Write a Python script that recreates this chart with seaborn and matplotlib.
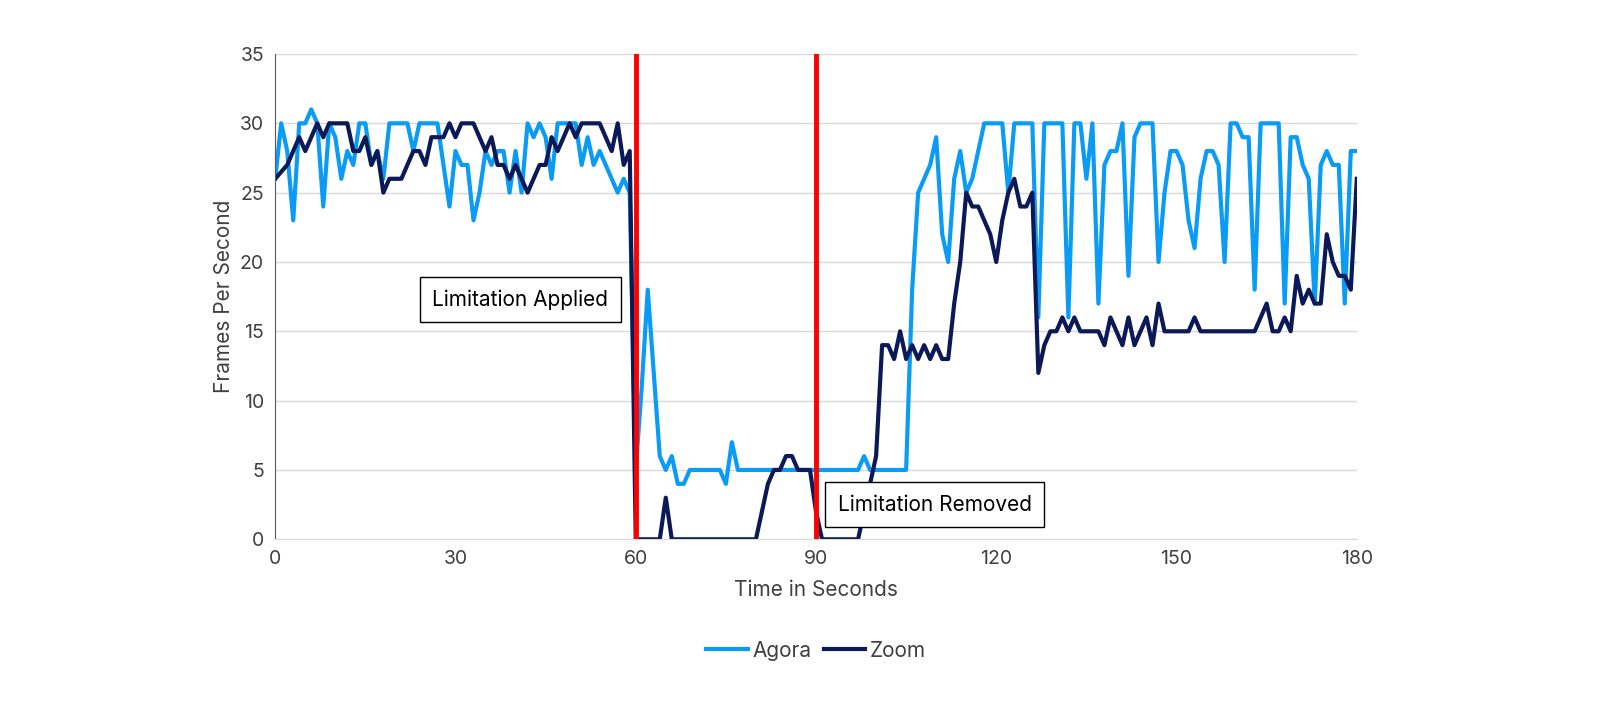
import matplotlib
matplotlib.use("Agg")
import matplotlib.pyplot as plt
import seaborn as sns
import pandas as pd

seconds = list(range(181))
agora = [26,30,28,23,30,30,31,30,24,30,29,26,28,27,30,30,27,28,26,30,
         30,30,30,28,30,30,30,30,27,24,28,27,27,23,25,28,27,28,28,25,
         28,25,30,29,30,29,26,30,30,30,30,27,29,27,28,27,26,25,26,25,
         5,11,18,12,6,5,6,4,4,5,5,5,5,5,5,4,7,5,5,5,
         5,5,5,5,5,5,5,5,5,5,5,5,5,5,5,5,5,5,6,5,
         5,5,5,5,5,5,18,25,26,27,29,22,20,26,28,25,26,28,30,30,
         30,30,25,30,30,30,30,16,30,30,30,30,16,30,30,26,30,17,27,28,
         28,30,19,29,30,30,30,20,25,28,28,27,23,21,26,28,28,27,20,30,
         30,29,29,18,30,30,30,30,17,29,29,27,26,17,27,28,27,27,17,28,28]
zoom = [26,26.5,27,28,29,28,29,30,29,30,30,30,30,28,28,29,27,28,25,26,
        26,26,27,28,28,27,29,29,29,30,29,30,30,30,29,28,29,27,27,26,
        27,26,25,26,27,27,29,28,29,30,29,30,30,30,30,29,28,30,27,28,
        0,0,0,0,0,3,0,0,0,0,0,0,0,0,0,0,0,0,0,0,
        0,2,4,5,5,6,6,5,5,5,2,0,0,0,0,0,0,0,2,4,
        6,14,14,13,15,13,14,13,14,13,14,13,13,17,20,25,24,24,23,22,
        20,23,25,26,24,24,25,12,14,15,15,16,15,16,15,15,15,15,14,16,
        15,14,16,14,15,16,14,17,15,15,15,15,15,16,15,15,15,15,15,15,
        15,15,15,15,16,17,15,15,16,15,19,17,18,17,17,22,20,19,19,18,26]
zoom = (zoom + [zoom[-1]] * 181)[:181]
agora = (agora + [agora[-1]] * 181)[:181]

df = pd.DataFrame({"t": seconds * 2, "fps": agora + zoom,
                   "Service": ["Agora"] * 181 + ["Zoom"] * 181})

plt.rcParams["font.family"] = "Inter"
fig = plt.figure(figsize=(16, 7.2), dpi=100)
ax = fig.add_axes([0.172, 0.251, 0.676, 0.674])
sns.lineplot(data=df, x="t", y="fps", hue="Service",
             palette={"Agora": "#0A9CF5", "Zoom": "#0B1A57"}, linewidth=3, ax=ax)
ax.axvline(60, color="#FF0000", lw=3.5, zorder=5)
ax.axvline(90, color="#FF0000", lw=3.5, zorder=5)
ax.set_xlim(0, 180)
ax.set_ylim(0, 35)
ax.set_xticks(range(0, 181, 30))
ax.set_yticks(range(0, 36, 5))
ax.yaxis.grid(True, color="#D9D9D9", lw=1)
ax.set_axisbelow(True)
for s in ["top", "right"]:
    ax.spines[s].set_visible(False)
ax.spines["left"].set_color("#595959")
ax.spines["bottom"].set_color("#D9D9D9")
ax.tick_params(length=0, labelsize=14, colors="#404040", pad=8)
ax.set_xlabel("Time in Seconds", fontsize=15, color="#404040", labelpad=8)
ax.set_ylabel("Frames Per Second", fontsize=15, color="#404040")
box = dict(boxstyle="square,pad=0.6", fc="white", ec="black", lw=1)
ax.text(40.8, 17.3, "Limitation Applied", ha="center", va="center", fontsize=15, bbox=box, zorder=6)
ax.text(109.8, 2.5, "Limitation Removed", ha="center", va="center", fontsize=15, bbox=box, zorder=6)
ax.legend(loc="upper center", bbox_to_anchor=(0.5, -0.17), ncol=2, frameon=False,
          fontsize=15, handlelength=2, columnspacing=0.6, handletextpad=0.2,
          labelcolor="#404040", title=None)
fig.savefig("out.png", dpi=100)
